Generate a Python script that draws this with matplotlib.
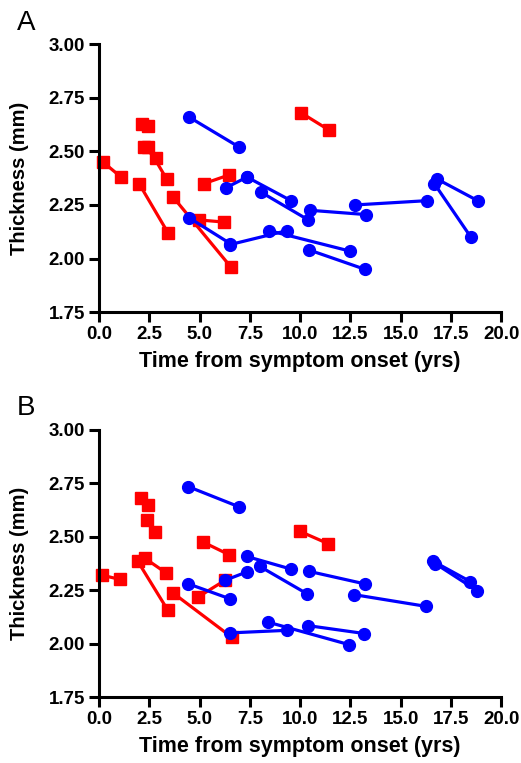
import matplotlib
matplotlib.use("Agg")
import matplotlib.pyplot as plt

plt.rcParams["font.family"] = ["Liberation Sans", "DejaVu Sans"]
plt.rcParams["font.weight"] = "bold"

# Panel A: each segment is one subject, first visit -> second visit
a_red_x0 = [0.2, 2.15, 2.23, 2.43, 1.99, 3.70, 4.98, 5.23, 10.05]
a_red_y0 = [2.45, 2.63, 2.52, 2.52, 2.35, 2.285, 2.18, 2.35, 2.68]
a_red_x1 = [1.1, 2.43, 2.82, 3.37, 3.43, 6.56, 6.22, 6.47, 11.43]
a_red_y1 = [2.38, 2.62, 2.47, 2.37, 2.12, 1.96, 2.17, 2.39, 2.60]

a_blue_x0 = [4.48, 4.48, 6.52, 8.47, 6.31, 7.36, 8.05, 10.50, 12.74, 10.45, 16.83, 16.67]
a_blue_y0 = [2.66, 2.19, 2.065, 2.13, 2.33, 2.38, 2.31, 2.225, 2.25, 2.04, 2.37, 2.35]
a_blue_x1 = [6.97, 6.52, 9.35, 12.46, 7.36, 9.55, 10.41, 13.29, 16.32, 13.21, 18.83, 18.49]
a_blue_y1 = [2.52, 2.07, 2.13, 2.035, 2.38, 2.27, 2.18, 2.205, 2.27, 1.95, 2.27, 2.10]

# Panel B
b_red_x0 = [0.16, 2.10, 2.38, 2.27, 1.93, 3.68, 5.18, 4.93, 10.0]
b_red_y0 = [2.32, 2.68, 2.58, 2.40, 2.385, 2.237, 2.475, 2.218, 2.525]
b_red_x1 = [1.06, 2.43, 2.77, 3.35, 3.43, 6.60, 6.47, 6.26, 11.41]
b_red_y1 = [2.30, 2.65, 2.52, 2.33, 2.155, 2.03, 2.416, 2.296, 2.467]

b_blue_x0 = [4.43, 4.43, 6.26, 7.34, 8.00, 6.50, 8.42, 10.45, 10.40, 12.69, 16.62, 16.73]
b_blue_y0 = [2.735, 2.28, 2.296, 2.408, 2.361, 2.05, 2.10, 2.338, 2.084, 2.229, 2.385, 2.374]
b_blue_x1 = [6.97, 6.50, 7.34, 9.54, 10.33, 9.33, 12.44, 13.24, 13.20, 16.28, 18.47, 18.80]
b_blue_y1 = [2.64, 2.21, 2.335, 2.349, 2.234, 2.062, 1.995, 2.279, 2.047, 2.174, 2.29, 2.248]

x_ticks = [0.0, 2.5, 5.0, 7.5, 10.0, 12.5, 15.0, 17.5, 20.0]
y_ticks = [1.75, 2.00, 2.25, 2.50, 2.75, 3.00]

RED = "#ff0000"
BLUE = "#0000ff"


def draw_segments(ax, x0, y0, x1, y1, color, marker):
    for xa, ya, xb, yb in zip(x0, y0, x1, y1):
        ax.plot([xa, xb], [ya, yb], color=color, lw=2.3, marker=marker,
                ms=8.5, mec=color, mfc=color, clip_on=False)


def style_axes(ax):
    ax.set_xlim(0, 20)
    ax.set_ylim(1.75, 3.0)
    ax.set_xticks(x_ticks)
    ax.set_yticks(y_ticks)
    ax.set_xticklabels([f"{t:.1f}" for t in x_ticks])
    ax.set_yticklabels([f"{t:.2f}" for t in y_ticks])
    for side in ("top", "right"):
        ax.spines[side].set_visible(False)
    for side in ("left", "bottom"):
        ax.spines[side].set_linewidth(2.2)
    ax.tick_params(width=2.2, length=7, labelsize=13.5, pad=3)
    for lab in ax.get_xticklabels() + ax.get_yticklabels():
        lab.set_fontweight("bold")
    ax.set_xlabel("Time from symptom onset (yrs)", fontsize=15.5,
                  fontweight="bold", labelpad=6)
    ax.set_ylabel("Thickness (mm)", fontsize=14.5, fontweight="bold",
                  labelpad=14)


fig = plt.figure(figsize=(5.21, 7.63), dpi=100)
ax_a = fig.add_axes([0.190, 0.591, 0.772, 0.351])
ax_b = fig.add_axes([0.190, 0.0865, 0.772, 0.350])

draw_segments(ax_a, a_red_x0, a_red_y0, a_red_x1, a_red_y1, RED, "s")
draw_segments(ax_a, a_blue_x0, a_blue_y0, a_blue_x1, a_blue_y1, BLUE, "o")
draw_segments(ax_b, b_red_x0, b_red_y0, b_red_x1, b_red_y1, RED, "s")
draw_segments(ax_b, b_blue_x0, b_blue_y0, b_blue_x1, b_blue_y1, BLUE, "o")

style_axes(ax_a)
style_axes(ax_b)

fig.text(0.032, 0.970, "A", fontsize=20, fontweight="normal", va="center")
fig.text(0.032, 0.465, "B", fontsize=20, fontweight="normal", va="center")

fig.savefig("out.png", dpi=100)
